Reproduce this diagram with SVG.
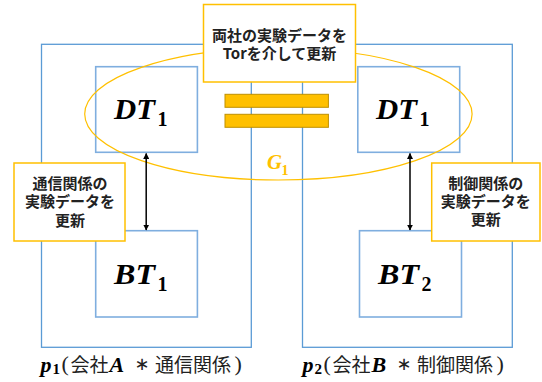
<svg xmlns="http://www.w3.org/2000/svg" width="542" height="382" viewBox="0 0 542 382">
<style>
.outer{fill:none;stroke:#5B9BD5;stroke-width:1.3}
.inner{fill:none;stroke:#7FAEDF;stroke-width:1.6}
.callout{fill:#fff;stroke:#FFC000;stroke-width:1.5}
.bar{fill:#FFC000;stroke:#BF9000;stroke-width:1}
.math{font-family:"Liberation Serif",serif;font-weight:bold;font-style:italic;fill:#000}
.num{font-family:"Liberation Serif",serif;font-weight:bold;font-style:normal;fill:#000}
.par{font-family:"Liberation Serif",serif;font-weight:normal;font-style:normal;fill:#222}
.op{font-family:"DejaVu Sans",sans-serif;font-weight:normal;font-style:normal;fill:#222}
.jp{font-family:"Noto Sans CJK JP",sans-serif;fill:#222}
.gold{fill:#FFC000}
.cj{font-family:"Noto Sans CJK JP",sans-serif;font-weight:bold;font-size:15px;text-anchor:middle;fill:#222}
.conn{stroke:#000;stroke-width:1.5;fill:none;marker-start:url(#ah);marker-end:url(#ah)}
</style>
<defs>
<marker id="ah" viewBox="0 0 10 10" refX="9" refY="5" markerWidth="6" markerHeight="6" markerUnits="userSpaceOnUse" orient="auto-start-reverse">
<path d="M0,0 L10,5 L0,10 z" fill="#000"/>
</marker>
</defs>
<rect width="542" height="382" fill="#fff"/>

<g id="p1">
<rect class="outer" x="41.5" y="44.3" width="209.8" height="303"/>
</g>
<g id="p2">
<rect class="outer" x="302.5" y="44.3" width="209.8" height="303"/>
</g>

<g id="dt-left">
<rect class="inner" x="95.7" y="66.7" width="101.7" height="85.6"/>
<text class="math" x="114" y="118.5" font-size="29" textLength="41" lengthAdjust="spacingAndGlyphs">DT</text>
<text class="num" x="157.5" y="125.5" font-size="20">1</text>
</g>
<g id="dt-right">
<rect class="inner" x="357.8" y="66.7" width="101.9" height="85.6"/>
<text class="math" x="376" y="119" font-size="29" textLength="41" lengthAdjust="spacingAndGlyphs">DT</text>
<text class="num" x="419.5" y="126" font-size="20">1</text>
</g>
<g id="bt-left">
<rect class="inner" x="95.7" y="230.7" width="101.7" height="86.3"/>
<text class="math" x="114" y="284" font-size="29" textLength="41" lengthAdjust="spacingAndGlyphs">BT</text>
<text class="num" x="157.5" y="290.5" font-size="20">1</text>
</g>
<g id="bt-right">
<rect class="inner" x="359.5" y="230.7" width="102" height="86.3"/>
<text class="math" x="378" y="284.3" font-size="29" textLength="41" lengthAdjust="spacingAndGlyphs">BT</text>
<text class="num" x="421.5" y="290.8" font-size="20">2</text>
</g>

<g id="g1">
<ellipse cx="278.4" cy="114" rx="193.7" ry="66" fill="none" stroke="#FFC000" stroke-width="1.2"/>
<rect class="bar" x="225" y="94.3" width="103.4" height="13"/>
<rect class="bar" x="225" y="114.3" width="103.4" height="13"/>
<text class="math gold" x="267" y="169.3" font-size="20" textLength="15" lengthAdjust="spacingAndGlyphs" style="fill:#FFC000">G</text>
<text class="num gold" x="281.5" y="174.5" font-size="14" style="fill:#FFC000">1</text>
</g>

<g id="connectors">
<line class="conn" x1="146.2" y1="153.5" x2="146.2" y2="230"/>
<line class="conn" x1="410" y1="153.5" x2="410" y2="230"/>
</g>

<g id="callout-top">
<rect class="callout" x="203.5" y="4.5" width="152" height="77.5"/>
<text class="cj" x="279.5" y="41">両社の実験データを</text>
<text class="cj" x="279.5" y="58.5">Torを介して更新</text>
</g>
<g id="callout-left">
<rect class="callout" x="14" y="163" width="111" height="78"/>
<text class="cj" x="70" y="189">通信関係の</text>
<text class="cj" x="70" y="207.3">実験データを</text>
<text class="cj" x="70" y="225.5">更新</text>
</g>
<g id="callout-right">
<rect class="callout" x="431.7" y="163" width="108.3" height="78"/>
<text class="cj" x="485.8" y="188.5">制御関係の</text>
<text class="cj" x="485.8" y="206.8">実験データを</text>
<text class="cj" x="485.8" y="225">更新</text>
</g>

<g id="label-p1">
<text y="371.5" font-size="19">
<tspan class="math" x="40.5" font-size="22">p</tspan><tspan class="num" x="52.5" y="374" font-size="15">1</tspan><tspan class="par" x="61.5" y="370.5" font-size="22">(</tspan><tspan class="jp" x="70.5" y="371.5">会社</tspan><tspan class="math" x="109.5" font-size="22">A</tspan><tspan class="op" x="134.5" y="370" font-size="18">∗</tspan><tspan class="jp" x="155" y="371.5">通信関係</tspan><tspan class="par" x="234.5" y="370.5" font-size="22">)</tspan>
</text>
</g>
<g id="label-p2">
<text y="371.5" font-size="19">
<tspan class="math" x="302.5" font-size="22">p</tspan><tspan class="num" x="314.5" y="374" font-size="15">2</tspan><tspan class="par" x="323.5" y="370.5" font-size="22">(</tspan><tspan class="jp" x="332.5" y="371.5">会社</tspan><tspan class="math" x="371.5" font-size="22">B</tspan><tspan class="op" x="396.5" y="370" font-size="18">∗</tspan><tspan class="jp" x="417" y="371.5">制御関係</tspan><tspan class="par" x="496.5" y="370.5" font-size="22">)</tspan>
</text>
</g>
</svg>
